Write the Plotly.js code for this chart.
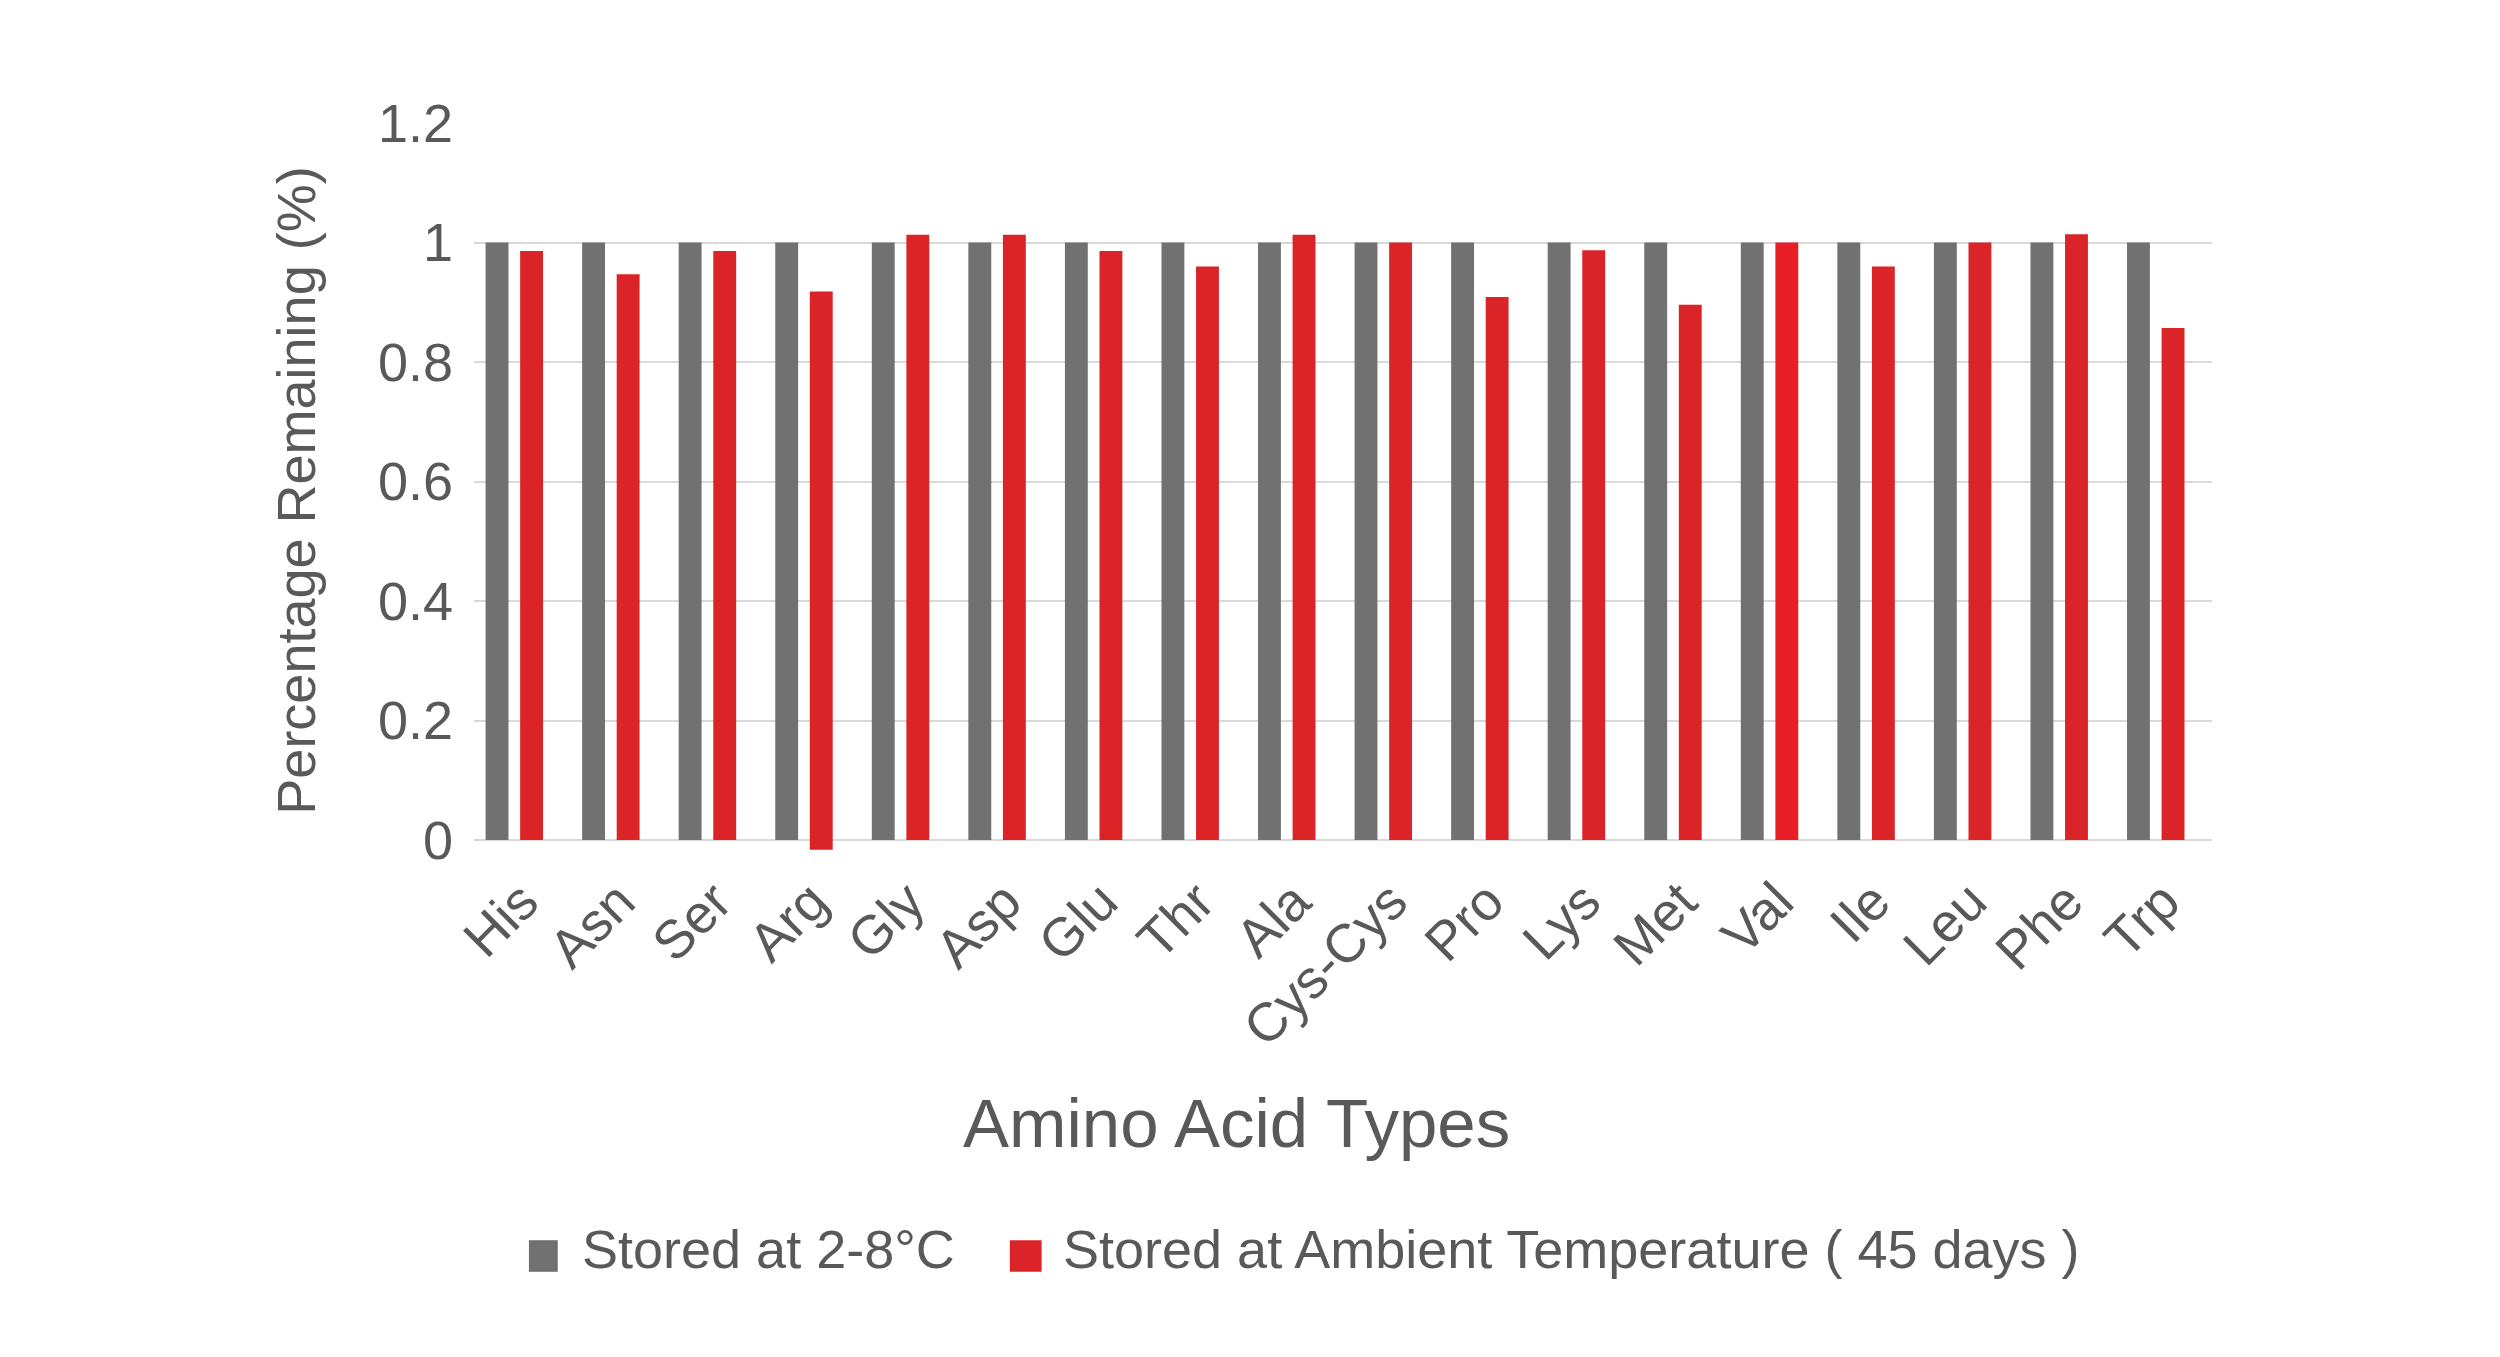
<!DOCTYPE html>
<html>
<head>
<meta charset="utf-8">
<script src="https://cdn.plot.ly/plotly-3.0.1.min.js"></script>
<style>html,body{margin:0;padding:0;background:#fff;}#chart{width:2500px;height:1357px;}</style>
</head>
<body>
<div id="chart"></div>
<script>
const categories = ["His","Asn","Ser","Arg","Gly","Asp","Glu","Thr","Ala","Cys-Cys","Pro","Lys","Met","Val","Ile","Leu","Phe","Trp"];
const cold = [1,1,1,1,1,1,1,1,1,1,1,1,1,1,1,1,1,1];
const ambient = [0.986,0.947,0.986,0.918,1.013,1.013,0.986,0.960,1.013,1.0,0.909,0.987,0.896,1.0,0.960,1.0,1.014,0.857];
const ambientBase = [0,0,0,-0.016,0,0,0,0,0,0,0,0,0,0,0,0,0,0];
const coldColor = "#717171";
const ambientColor = "#da2427";
const ambientColors = categories.map(c => c === "Val" ? "#e81e26" : ambientColor);
const yTickVals = [0,0.2,0.4,0.6,0.8,1,1.2];
const yTickText = ["0","0.2","0.4","0.6","0.8","1","1.2"];
const seriesNames = ["Stored at 2-8°C","Stored at Ambient Temperature ( 45 days )"];

const font = "Liberation Sans, Arial, sans-serif";
const textColor = "#595959";

const traces = [
  {type:"bar", name:seriesNames[0], x:categories, y:cold, offset:-0.38, width:0.237,
   marker:{color:coldColor}, showlegend:false},
  {type:"bar", name:seriesNames[1], x:categories, y:ambient.map((v,i)=>v-ambientBase[i]), base:ambientBase,
   offset:-0.022, width:0.237, marker:{color:ambientColors}, showlegend:false}
];

// legend drawn as paper-positioned squares + text labels
const legendSquares = [[0.0316,0.0482],[0.3083,0.3266]];
const legendTextX = [0.0608,0.3375];
const legendColors = [coldColor, ambientColor];
const shapes = seriesNames.map((n,i)=>({type:"rect", xref:"paper", yref:"paper",
  x0:legendSquares[i][0], x1:legendSquares[i][1], y0:-0.5630, y1:-0.5200,
  fillcolor:legendColors[i], line:{width:0}}));
const annotations = [{text:"Amino Acid Types", xref:"paper", yref:"paper", x:0.439, y:-0.3617,
                xanchor:"center", yanchor:"middle", showarrow:false,
                font:{family:font, size:69, color:textColor}}]
  .concat(seriesNames.map((n,i)=>({text:n, xref:"paper", yref:"paper", x:legendTextX[i], y:-0.5323,
                xanchor:"left", yanchor:"middle", showarrow:false,
                font:{family:font, size:54, color:textColor}})));

const layout = {
  width:2500, height:1357,
  margin:{l:474, r:288, t:123, b:498.5},
  paper_bgcolor:"#ffffff", plot_bgcolor:"#ffffff",
  barmode:"overlay",
  font:{family:font, color:textColor, size:54},
  showlegend:false,
  xaxis:{type:"category", tickangle:-45, tickfont:{family:font, size:54, color:textColor},
         showgrid:false, zeroline:false, showline:false, ticks:"", automargin:false},
  yaxis:{range:[-0.03,1.2], tickvals:yTickVals, ticktext:yTickText,
         tickfont:{family:font, size:54, color:textColor},
         showgrid:true, gridcolor:"#d9d9d9", gridwidth:2, zeroline:false, showline:false, ticks:"",
         ticklabelstandoff:20,
         title:{text:"Percentage Remaining (%)", font:{family:font, size:54, color:textColor}, standoff:45},
         automargin:false},
  shapes:shapes,
  annotations:annotations
};

Plotly.newPlot("chart", traces, layout, {displayModeBar:false, staticPlot:true});
</script>
</body>
</html>
